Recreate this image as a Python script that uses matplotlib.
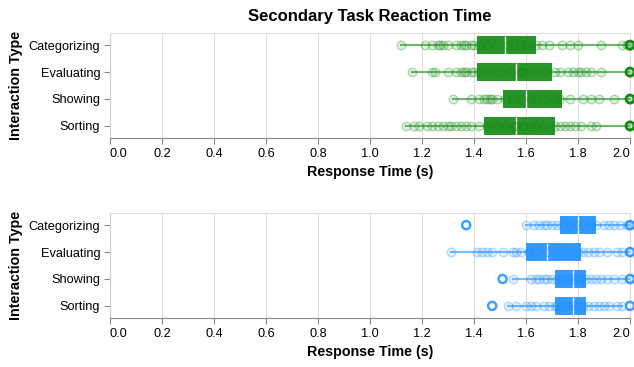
import numpy as np
import matplotlib
matplotlib.use('Agg')
import matplotlib.pyplot as plt

plt.rcParams['font.family'] = ['Liberation Sans', 'DejaVu Sans']

# data
categories = ['Categorizing', 'Evaluating', 'Showing', 'Sorting']
x_ticks = [0.0, 0.2, 0.4, 0.6, 0.8, 1.0, 1.2, 1.4, 1.6, 1.8, 2.0]

# top panel: individual responses (s)
top_categorizing = [1.12, 1.21, 1.24, 1.26, 1.27, 1.28, 1.30, 1.33, 1.35, 1.36, 1.37, 1.39, 1.40,
                    1.42, 1.45, 1.49, 1.53, 1.55, 1.58, 1.60, 1.64, 1.66, 1.69, 1.74, 1.77, 1.80,
                    1.89, 1.97, 1.99, 2.05, 2.2]
top_evaluating = [1.16, 1.24, 1.25, 1.30, 1.33, 1.35, 1.36, 1.37, 1.39, 1.40, 1.42, 1.46, 1.50,
                  1.54, 1.58, 1.59, 1.63, 1.67, 1.71, 1.73, 1.76, 1.78, 1.80, 1.81, 1.83, 1.85,
                  1.89, 2.1, 2.3]
top_showing = [1.32, 1.39, 1.42, 1.44, 1.45, 1.46, 1.47, 1.49, 1.52, 1.55, 1.58, 1.62, 1.64,
               1.67, 1.71, 1.73, 1.77, 1.82, 1.85, 1.88, 1.94, 2.1, 2.25]
top_sorting = [1.14, 1.17, 1.19, 1.22, 1.24, 1.26, 1.28, 1.30, 1.31, 1.33, 1.35, 1.37, 1.39,
               1.42, 1.45, 1.49, 1.52, 1.55, 1.56, 1.59, 1.62, 1.64, 1.67, 1.71, 1.73, 1.75,
               1.77, 1.79, 1.81, 1.85, 1.87, 2.1, 2.4]

# top panel box statistics
top_whislo = [1.12, 1.16, 1.32, 1.14]
top_q1 = [1.41, 1.41, 1.51, 1.44]
top_med = [1.52, 1.56, 1.60, 1.56]
top_q3 = [1.64, 1.70, 1.74, 1.71]
top_whishi = [2.0, 2.0, 2.0, 2.0]
top_outliers = [[2.05, 2.2], [2.1, 2.3], [2.1, 2.25], [2.1, 2.4]]

# bottom panel: individual responses (s)
bot_categorizing = [1.60, 1.63, 1.65, 1.67, 1.68, 1.70, 1.72, 1.74, 1.77, 1.80, 1.82, 1.85,
                    1.87, 1.90, 1.92, 1.94, 1.96, 1.99, 2.1]
bot_evaluating = [1.31, 1.41, 1.43, 1.45, 1.47, 1.51, 1.55, 1.56, 1.58, 1.61, 1.64, 1.68, 1.72,
                  1.76, 1.80, 1.82, 1.84, 1.86, 1.88, 1.91, 1.95, 1.97, 2.1]
bot_showing = [1.55, 1.62, 1.64, 1.65, 1.67, 1.68, 1.70, 1.72, 1.74, 1.76, 1.78, 1.80, 1.81,
               1.83, 1.85, 1.87, 1.89, 1.91, 1.94, 1.97, 2.1]
bot_sorting = [1.53, 1.56, 1.60, 1.62, 1.64, 1.67, 1.69, 1.71, 1.72, 1.74, 1.76, 1.78, 1.80,
               1.82, 1.84, 1.86, 1.88, 1.90, 1.92, 1.95, 1.97]

# bottom panel box statistics
bot_whislo = [1.60, 1.31, 1.55, 1.53]
bot_q1 = [1.73, 1.60, 1.71, 1.71]
bot_med = [1.80, 1.68, 1.78, 1.78]
bot_q3 = [1.87, 1.81, 1.83, 1.83]
bot_whishi = [2.0, 2.0, 2.0, 1.97]
bot_outliers = [[1.37, 2.1], [2.1], [1.51, 2.1], [1.47, 2.2]]

XMAX = 2.0


def draw_panel(ax, points, whislo, q1, med, q3, whishi, outliers, color):
    pos = np.arange(len(categories))
    rgb = matplotlib.colors.to_rgb(color)
    stats = []
    for i in range(len(categories)):
        stats.append(dict(whislo=whislo[i], q1=q1[i], med=med[i], q3=q3[i],
                          whishi=min(whishi[i], XMAX), fliers=[]))
    ax.bxp(stats, positions=pos, orientation='horizontal', widths=0.67,
           patch_artist=True, showcaps=False, showfliers=False,
           boxprops=dict(facecolor=color, edgecolor='none', alpha=0.9),
           whiskerprops=dict(color=color, linewidth=1.5, alpha=0.6),
           medianprops=dict(color='white', linewidth=1.0), zorder=3)
    for i, vals in enumerate(points):
        x = np.minimum(np.array(vals), XMAX)
        ax.scatter(x, np.full(len(x), pos[i]), s=38, facecolor=(*rgb, 0.12),
                   edgecolor=(*rgb, 0.3), linewidth=1.0, zorder=4, clip_on=False)
        o = np.minimum(np.array(outliers[i]), XMAX)
        ax.scatter(o, np.full(len(o), pos[i]), s=34, facecolor='none', edgecolor=color,
                   linewidth=1.8, alpha=0.85, zorder=5, clip_on=False)

    ax.set_xlim(0, XMAX)
    ax.set_ylim(len(categories) - 0.55, -0.45)
    ax.set_yticks(pos)
    ax.set_yticklabels(categories, fontsize=9.2)
    ax.set_xticks(x_ticks)
    ax.set_xticklabels(['%.1f' % t for t in x_ticks], fontsize=9.2)
    labels = ax.get_xticklabels()
    labels[0].set_horizontalalignment('left')
    labels[-1].set_horizontalalignment('right')
    ax.grid(axis='x', color='#dddddd', linewidth=0.8, zorder=0)
    ax.set_axisbelow(True)
    for s in ['top', 'right']:
        ax.spines[s].set_color('#dddddd')
    ax.spines['left'].set_color('#cccccc')
    ax.spines['bottom'].set_color('#888888')
    for s in ax.spines.values():
        s.set_linewidth(0.8)
    ax.tick_params(axis='both', length=4, width=0.8, color='#888888', pad=3)
    ax.set_xlabel('Response Time (s)', fontsize=10.3, fontweight='bold', labelpad=4)
    ax.set_ylabel('Interaction Type', fontsize=10.3, fontweight='bold', labelpad=4)


fig = plt.figure(figsize=(6.34, 3.67), dpi=100)
ax1 = fig.add_axes([110 / 634, 1 - 138 / 367, 520 / 634, 105 / 367])
ax2 = fig.add_axes([110 / 634, 1 - 318 / 367, 520 / 634, 105 / 367])

draw_panel(ax1, [top_categorizing, top_evaluating, top_showing, top_sorting],
           top_whislo, top_q1, top_med, top_q3, top_whishi, top_outliers, '#118a11')
draw_panel(ax2, [bot_categorizing, bot_evaluating, bot_showing, bot_sorting],
           bot_whislo, bot_q1, bot_med, bot_q3, bot_whishi, bot_outliers, '#1e8fff')

ax1.set_title('Secondary Task Reaction Time', fontsize=12, fontweight='bold', pad=9)

fig.savefig('out.png', dpi=100)
